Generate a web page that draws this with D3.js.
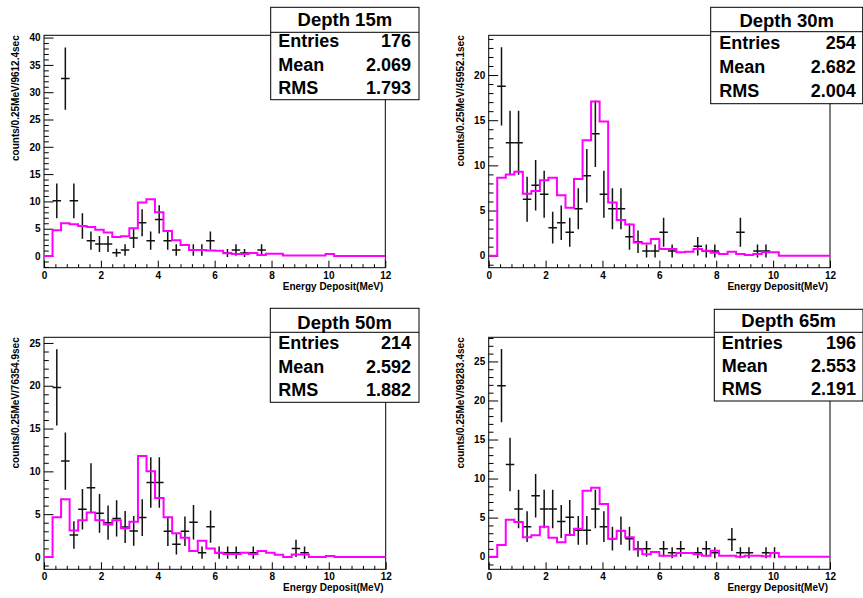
<!DOCTYPE html>
<html>
<head>
<meta charset="utf-8">
<script src="https://cdn.jsdelivr.net/npm/d3@7"></script>
<style>
  html, body { margin: 0; padding: 0; background: #fff; }
  svg { display: block; }
  text { font-family: "Liberation Sans", Arial, Helvetica, sans-serif; font-weight: bold; }
</style>
</head>
<body>
<svg id="chart" width="863" height="598"></svg>
<script>
// ---- histogram binning (MeV) ----
const binEdges = [0, 0.3, 0.6, 0.9, 1.2, 1.5, 1.8, 2.1, 2.4, 2.7, 3.0, 3.3, 3.6, 3.9, 4.2, 4.5, 4.8, 5.1, 5.4, 5.7, 6.0,
  6.3, 6.6, 6.9, 7.2, 7.5, 7.8, 8.1, 8.4, 8.7, 9.0, 9.3, 9.6, 9.9, 10.2, 10.5, 10.8, 11.1, 11.4, 11.7, 12.0];

// ---- per-depth labels and statistics ----
const depthLabels = ["Depth 15m", "Depth 30m", "Depth 50m", "Depth 65m"];
const yTitles = ["counts/0.25MeV/9612.4sec", "counts/0.25MeV/45952.1sec", "counts/0.25MeV/76354.9sec", "counts/0.25MeV/98283.4sec"];
const statEntries = ["176", "254", "214", "196"];
const statMean = ["2.069", "2.682", "2.592", "2.553"];
const statRMS = ["1.793", "2.004", "1.882", "2.191"];

// ---- simulated spectra (magenta step histograms), one value per bin ----
const sim15 = [0, 4.7, 6.0, 5.8, 5.5, 5.3, 4.8, 4.3, 3.5, 3.6, 5.1, 9.8, 10.4, 8.0, 4.6, 2.9, 2.0, 1.1, 1.1, 1.0,
  0.95, 0.5, 0.35, 0.35, 0.55, 0.2, 0.4, 0.4, 0.1, 0.1, 0.1, 0.1, 0.1, 0.35, 0, 0, 0, 0, 0, 0];
const sim30 = [0, 8.63, 9.0, 9.3, 6.86, 7.16, 8.34, 8.63, 6.7, 5.3, 8.5, 12.77, 17.08, 14.87, 5.9, 3.95, 3.45, 1.45, 1.35, 1.85,
  0.74, 0.74, 0.37, 0.44, 0.74, 0.55, 0.33, 0.18, 0.44, 0.18, 0.07, 0.18, 0.37, 0.37, 0, 0, 0, 0, 0, 0];
const sim50 = [0, 4.63, 6.74, 3.1, 4.3, 5.2, 4.3, 3.8, 4.3, 3.35, 4.1, 11.8, 10.0, 6.9, 4.63, 2.76, 2.26, 0.7, 1.9, 1.0,
  0.5, 0.35, 0.35, 0.5, 0.35, 0.7, 0.5, 0.27, 0, 0.3, 0.3, 0, 0, 0.12, 0, 0, 0, 0, 0, 0];
const sim65 = [0, 1.5, 4.74, 4.44, 2.5, 2.73, 3.84, 2.43, 1.83, 2.77, 3.58, 8.45, 8.83, 6.74, 2.3, 3.33, 2.47, 0.9, 0.3, 0.6,
  0.13, 0.13, 0.47, 0.47, 0.3, 0.1, 0.77, 0.13, 0.13, 0.0, 0.13, 0.13, 0.05, 0.47, 0, 0, 0, 0, 0, 0];

// ---- measured spectra: bin centre (MeV), value, error ----
const dataE15 = [0.45, 0.75, 1.05, 1.35, 1.65, 1.95, 2.25, 2.55, 2.85, 3.15, 3.45, 3.75, 4.05, 4.35, 4.65, 5.25, 5.55, 5.85, 6.45, 6.75, 7.05, 7.65];
const dataV15 = [10.1, 32.5, 10.1, 5.5, 2.8, 2.2, 2.2, 0.6, 1.1, 3.3, 6.1, 2.8, 6.7, 2.8, 1.1, 1.1, 1.1, 2.8, 0.55, 1.1, 0.55, 1.1];
const dataErr15 = [3.2, 5.7, 3.2, 2.35, 1.67, 1.48, 1.48, 0.75, 1.05, 1.82, 2.47, 1.67, 2.58, 1.67, 1.05, 1.05, 1.05, 1.67, 0.74, 1.05, 0.74, 1.05];

const dataE30 = [0.45, 0.75, 1.05, 1.35, 1.65, 1.95, 2.25, 2.55, 2.85, 3.15, 3.45, 3.75, 4.05, 4.35, 4.65, 4.95, 5.25, 5.55, 5.85, 6.15, 6.45, 7.35, 7.65, 7.95, 8.85, 9.45, 9.75];
const dataV30 = [18.75, 12.5, 12.5, 6.25, 7.8, 6.8, 3.1, 3.65, 2.6, 5.2, 8.85, 13.5, 6.8, 5.2, 5.2, 2.1, 1.55, 0.52, 0.52, 2.6, 0.52, 1.04, 0.52, 0.52, 2.6, 0.52, 0.52];
const dataErr30 = [4.33, 3.54, 3.54, 2.5, 2.79, 2.61, 1.76, 1.91, 1.61, 2.28, 2.97, 3.67, 2.61, 2.28, 2.28, 1.45, 1.25, 0.72, 0.72, 1.61, 0.72, 1.02, 0.72, 0.72, 1.61, 0.72, 0.72];

const dataE50 = [0.45, 0.75, 1.05, 1.35, 1.65, 1.95, 2.25, 2.55, 2.85, 3.15, 3.45, 3.75, 4.05, 4.35, 4.65, 4.95, 5.25, 5.55, 5.85, 6.15, 6.45, 6.75, 7.35, 8.85, 9.15];
const dataV50 = [19.8, 11.2, 2.57, 5.57, 8.1, 5.1, 4.0, 4.5, 3.5, 3.04, 4.6, 8.7, 8.7, 3.0, 1.5, 3.0, 4.05, 0.5, 3.54, 0.5, 0.5, 0.5, 0.5, 1.0, 0.5];
const dataErr50 = [4.45, 3.35, 1.6, 2.36, 2.85, 2.26, 2.0, 2.12, 1.87, 1.74, 2.14, 2.95, 2.95, 1.73, 1.22, 1.73, 2.01, 0.71, 1.88, 0.71, 0.71, 0.71, 0.71, 1.0, 0.71];

const dataE65 = [0.45, 0.75, 1.05, 1.35, 1.65, 1.95, 2.25, 2.55, 2.85, 3.15, 3.45, 3.75, 4.05, 4.35, 4.65, 4.95, 5.25, 5.55, 6.15, 6.45, 6.75, 7.35, 7.65, 7.95, 8.55, 8.85, 9.15, 9.75, 10.05];
const dataV65 = [21.9, 11.8, 6.1, 3.84, 7.8, 6.1, 6.1, 4.5, 5.03, 3.37, 3.37, 6.1, 3.84, 2.3, 3.33, 2.3, 1.0, 1.0, 1.0, 0.5, 1.0, 0.5, 1.0, 0.5, 2.2, 0.5, 0.5, 0.5, 0.5];
const dataErr65 = [4.68, 3.44, 2.47, 1.96, 2.79, 2.47, 2.47, 2.12, 2.24, 1.84, 1.84, 2.47, 1.96, 1.52, 1.82, 1.52, 1.0, 1.0, 1.0, 0.71, 1.0, 0.71, 1.0, 0.71, 1.48, 0.71, 0.71, 0.71, 0.71];

// ---- pad layout ----
const pads = [
  { frame: [44, 385.3, 35.3, 267.7], yDomain: [-2.14, 40.42], titleX: 15,
    box: [270.7, 419, 7.3, 32.3, 99.7], labelX: 278.3, valueX: 411, baselines: [26, 46.7, 70.7, 94],
    sim: sim15, E: dataE15, V: dataV15, Err: dataErr15 },
  { frame: [488.7, 830, 35.3, 267.7], yDomain: [-1.33, 24.4], titleX: 460,
    box: [710.7, 862.7, 7.3, 31.7, 103.7], labelX: 719.3, valueX: 855.7, baselines: [27.3, 49.3, 73.3, 96.7],
    sim: sim30, E: dataE30, V: dataV30, Err: dataErr30 },
  { frame: [44, 385.7, 337.3, 569.3], yDomain: [-1.44, 25.66], titleX: 15,
    box: [270.3, 419, 308.3, 332.3, 402.3], labelX: 278.3, valueX: 411, baselines: [329, 349.3, 372.7, 395.7],
    sim: sim50, E: dataE50, V: dataV50, Err: dataErr50 },
  { frame: [488.7, 830, 337.3, 569.3], yDomain: [-1.62, 28.09], titleX: 460,
    box: [714.3, 863, 309.3, 332.3, 401], labelX: 721.7, valueX: 856, baselines: [327.3, 348.7, 372, 395],
    sim: sim65, E: dataE65, V: dataV65, Err: dataErr65 }
];

const svg = d3.select("#chart");
const MAGENTA = "#ff00ff";

pads.forEach((p, i) => {
  const [fx0, fx1, fy0, fy1] = p.frame;
  const x = d3.scaleLinear().domain([0, 12]).range([fx0, fx1]);
  const y = d3.scaleLinear().domain(p.yDomain).range([fy1, fy0]);
  const g = svg.append("g");

  const clipId = "clip" + i;
  svg.append("clipPath").attr("id", clipId)
    .append("rect").attr("x", fx0).attr("y", fy0).attr("width", fx1 - fx0).attr("height", fy1 - fy0);

  // frame
  g.append("rect").attr("x", fx0).attr("y", fy0).attr("width", fx1 - fx0).attr("height", fy1 - fy0)
    .attr("fill", "#fff").attr("stroke", "#000").attr("stroke-width", 1);

  // y axis: major ticks every 5, minor every 1, all pointing into the frame
  const yMajor = d3.range(0, p.yDomain[1] + 1e-9, 5);
  const yMinor = d3.range(Math.ceil(p.yDomain[0]), p.yDomain[1], 1).filter(v => v % 5 !== 0);
  const yAxis = g.append("g").attr("transform", `translate(${fx0},0)`)
    .call(d3.axisLeft(y).tickValues(yMajor).tickSizeInner(-9.5).tickSizeOuter(0).tickPadding(3.5).tickFormat(d3.format("d")));
  g.append("g").attr("transform", `translate(${fx0},0)`)
    .call(d3.axisLeft(y).tickValues(yMinor).tickSizeInner(-4.8).tickSizeOuter(0).tickFormat(""));

  // x axis: major ticks every 2 MeV, minor every 0.4 MeV
  const xMajor = d3.range(0, 12.001, 2);
  const xMinor = d3.range(0, 12.001, 0.4).filter(v => Math.abs(v / 2 - Math.round(v / 2)) > 1e-6);
  g.append("g").attr("transform", `translate(0,${fy1})`)
    .call(d3.axisBottom(x).tickValues(xMajor).tickSizeInner(-7).tickSizeOuter(0).tickPadding(4).tickFormat(d3.format("d")));
  g.append("g").attr("transform", `translate(0,${fy1})`)
    .call(d3.axisBottom(x).tickValues(xMinor).tickSizeInner(-3.5).tickSizeOuter(0).tickFormat(""));

  g.selectAll(".domain").remove();
  g.selectAll(".tick line").attr("stroke", "#000").attr("stroke-width", 1);
  g.selectAll(".tick text").attr("font-size", 10).attr("fill", "#000")
    .attr("font-family", '"Liberation Sans", Arial, sans-serif').attr("font-weight", "bold");

  // axis titles
  g.append("text").attr("x", fx1 - 2).attr("y", fy1 + 22).attr("text-anchor", "end")
    .attr("font-size", 10).text("Energy Deposit(MeV)");
  g.append("text").attr("transform", `translate(${p.titleX + 3.5},${fy0}) rotate(-90)`)
    .attr("text-anchor", "end").attr("font-size", 10).text(yTitles[i]);

  const plot = g.append("g").attr("clip-path", `url(#${clipId})`);

  // measured points with error bars
  const pts = p.E.map((e, k) => ({ e, v: p.V[k], err: p.Err[k] }));
  const halfBin = (binEdges[1] - binEdges[0]) / 2;
  plot.selectAll("line.h").data(pts).enter().append("line")
    .attr("x1", d => x(d.e - halfBin)).attr("x2", d => x(d.e + halfBin))
    .attr("y1", d => y(d.v)).attr("y2", d => y(d.v))
    .attr("stroke", "#111").attr("stroke-width", 1.5);
  plot.selectAll("line.v").data(pts).enter().append("line")
    .attr("x1", d => x(d.e)).attr("x2", d => x(d.e))
    .attr("y1", d => y(d.v - d.err)).attr("y2", d => y(d.v + d.err))
    .attr("stroke", "#111").attr("stroke-width", 1.5);

  // simulated spectrum as a step outline
  const steps = [];
  p.sim.forEach((v, k) => { steps.push([binEdges[k], v]); steps.push([binEdges[k + 1], v]); });
  plot.append("path").datum(steps)
    .attr("d", d3.line().x(d => x(d[0])).y(d => y(d[1])))
    .attr("fill", "none").attr("stroke", MAGENTA).attr("stroke-width", 2);

  // statistics box
  const [bx0, bx1, by0, byh, by1] = p.box;
  const sb = svg.append("g");
  sb.append("rect").attr("x", bx0).attr("y", by0).attr("width", bx1 - bx0).attr("height", by1 - by0)
    .attr("fill", "#fff").attr("stroke", "#000").attr("stroke-width", 1);
  sb.append("line").attr("x1", bx0).attr("x2", bx1).attr("y1", byh).attr("y2", byh)
    .attr("stroke", "#000").attr("stroke-width", 1);
  sb.append("text").attr("x", (bx0 + bx1) / 2).attr("y", p.baselines[0]).attr("text-anchor", "middle")
    .attr("font-size", 18.5).text(depthLabels[i]);
  const rows = [["Entries", statEntries[i]], ["Mean", statMean[i]], ["RMS", statRMS[i]]];
  rows.forEach((r, k) => {
    sb.append("text").attr("x", p.labelX).attr("y", p.baselines[k + 1]).attr("font-size", 18).text(r[0]);
    sb.append("text").attr("x", p.valueX).attr("y", p.baselines[k + 1]).attr("text-anchor", "end")
      .attr("font-size", 18).text(r[1]);
  });
});
</script>
</body>
</html>
